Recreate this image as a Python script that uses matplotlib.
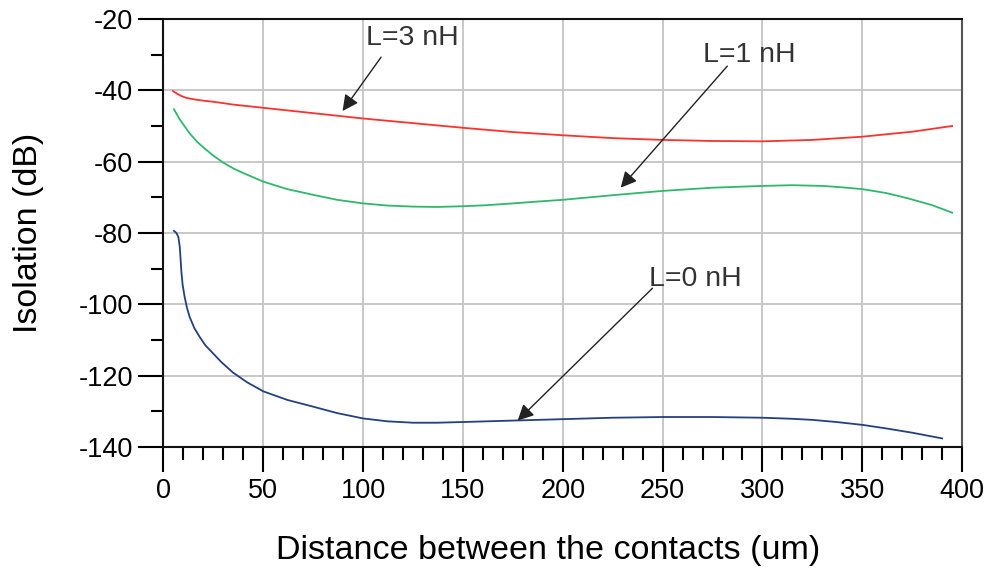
import matplotlib
matplotlib.use("Agg")
import matplotlib.pyplot as plt
from matplotlib.ticker import MultipleLocator

plt.rcParams['font.family'] = ['Liberation Sans', 'DejaVu Sans']
plt.rcParams['axes.unicode_minus'] = False

# Isolation vs. contact spacing for three series inductances
x_l3 = [4.75, 7, 9, 11.4, 15, 20, 25, 35, 50, 75, 100, 125, 150, 175, 200, 225,
        250, 275, 300, 325, 350, 375, 395]
y_l3 = [-40.2, -41.0, -41.6, -42.1, -42.5, -42.9, -43.2, -44.0, -44.9, -46.4, -47.9,
        -49.2, -50.5, -51.7, -52.6, -53.4, -53.9, -54.2, -54.3, -53.9, -53.0, -51.6, -50.0]

x_l1 = [5.25, 8, 10, 13, 17, 20, 24.75, 30, 35, 40, 50, 62, 75, 87, 100, 112, 125,
        137, 150, 162, 175, 187, 200, 225, 250, 275, 300, 315, 330, 340, 350, 362,
        373, 385, 395]
y_l1 = [-45.3, -48.0, -49.6, -52.0, -54.5, -56.0, -58.2, -60.3, -61.9, -63.2, -65.6,
        -67.7, -69.3, -70.7, -71.7, -72.3, -72.6, -72.7, -72.5, -72.2, -71.7, -71.2,
        -70.7, -69.4, -68.2, -67.3, -66.8, -66.6, -66.8, -67.2, -67.7, -68.8, -70.3,
        -72.2, -74.3]

x_l0 = [5.25, 6.5, 7.5, 8.2, 8.6, 9.0, 9.6, 10.6, 11.8, 13.1, 15.5, 18.1, 21, 24.75,
        29, 34.75, 42, 50, 62, 75, 87, 100, 112, 125, 137, 150, 175, 200, 225, 250,
        275, 300, 315, 325, 337, 350, 362, 375, 390]
y_l0 = [-79.4, -80.0, -81.2, -84.0, -87.5, -91.0, -94.5, -97.9, -101.0, -103.5,
        -106.7, -109.1, -111.5, -113.7, -116.2, -119.1, -121.9, -124.4, -126.8,
        -128.7, -130.5, -132.0, -132.8, -133.2, -133.2, -133.0, -132.6, -132.2,
        -131.8, -131.6, -131.6, -131.8, -132.1, -132.4, -133.0, -133.8, -134.8,
        -136.0, -137.6]

labels = ["L=3 nH", "L=1 nH", "L=0 nH"]
label_pos = [(124.5, -25.3), (293.3, -30.1), (266.6, -92.9)]
arrow_from = [(109.0, -30.7), (282.4, -33.2), (244.9, -95.5)]
arrow_to = [(89.7, -45.8), (229.0, -67.3), (177.4, -132.6)]

fig = plt.figure(figsize=(9.87, 5.76), dpi=100)
ax = fig.add_axes([0.1656, 0.224, 0.8092, 0.743])

ax.plot(x_l3, y_l3, color='#ff3030', lw=1.3)
ax.plot(x_l1, y_l1, color='#2fb86a', lw=1.3)
ax.plot(x_l0, y_l0, color='#24407f', lw=1.3)

ax.set_xlim(0, 400)
ax.set_ylim(-140, -20)
ax.xaxis.set_major_locator(MultipleLocator(50))
ax.xaxis.set_minor_locator(MultipleLocator(10))
ax.yaxis.set_major_locator(MultipleLocator(20))
ax.yaxis.set_minor_locator(MultipleLocator(10))

ax.grid(True, which='major', color='#c4c4c4', lw=1.3)
ax.set_axisbelow(True)

ax.tick_params(which='major', direction='out', length=18, width=1.5, labelsize=19.5, pad=4)
ax.tick_params(which='minor', direction='out', length=9, width=1.5)
ax.tick_params(top=False, right=False)

for side in ['left', 'bottom', 'top']:
    ax.spines[side].set_linewidth(1.5)
    ax.spines[side].set_color('#111111')
ax.spines['right'].set_linewidth(1.5)
ax.spines['right'].set_color('#555555')

ax.set_xlabel("Distance between the contacts (um)", fontsize=24.5)
ax.set_ylabel("Isolation (dB)", fontsize=24.5)
ax.xaxis.set_label_coords(0.482, -0.205)
ax.yaxis.set_label_coords(-0.15, 0.5)

for text, pos, start, tip in zip(labels, label_pos, arrow_from, arrow_to):
    ax.text(pos[0], pos[1], text, fontsize=20.5, color='#333333', ha='center', va='center')
    ax.annotate('', xy=tip, xytext=start,
                arrowprops=dict(arrowstyle='-|>', color='#222222', lw=1.0,
                                mutation_scale=24, shrinkA=0, shrinkB=0))

fig.savefig("out.png", dpi=100)
